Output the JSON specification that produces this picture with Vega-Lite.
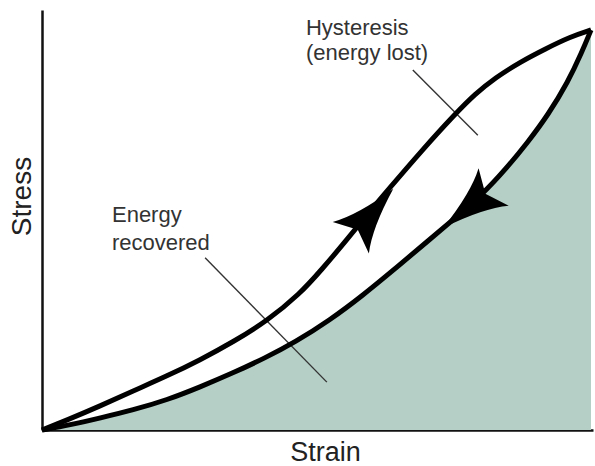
{
  "$schema": "https://vega.github.io/schema/vega-lite/v6.json",
  "width": 551,
  "height": 420,
  "autosize": "none",
  "padding": {"left": 42, "top": 10, "right": 2, "bottom": 36},
  "config": {"view": {"stroke": null}, "font": "Liberation Sans"},
  "datasets": {
    "curves": [
      {"curve": "loading", "x": 0, "y": 0},
      {"curve": "loading", "x": 4.54, "y": 2.38},
      {"curve": "loading", "x": 10.53, "y": 5.71},
      {"curve": "loading", "x": 16.52, "y": 9.29},
      {"curve": "loading", "x": 22.69, "y": 12.86},
      {"curve": "loading", "x": 28.68, "y": 16.67},
      {"curve": "loading", "x": 34.66, "y": 20.95},
      {"curve": "loading", "x": 40.83, "y": 25.95},
      {"curve": "loading", "x": 46.82, "y": 32.4},
      {"curve": "loading", "x": 50.82, "y": 38.3},
      {"curve": "loading", "x": 55.0, "y": 44.76},
      {"curve": "loading", "x": 58.8, "y": 50.95},
      {"curve": "loading", "x": 62.79, "y": 57.14},
      {"curve": "loading", "x": 68.97, "y": 66.6},
      {"curve": "loading", "x": 74.95, "y": 75.2},
      {"curve": "loading", "x": 78.6, "y": 80.0},
      {"curve": "loading", "x": 82.21, "y": 83.81},
      {"curve": "loading", "x": 86.75, "y": 87.6},
      {"curve": "loading", "x": 91.29, "y": 90.7},
      {"curve": "loading", "x": 95.83, "y": 93.6},
      {"curve": "loading", "x": 99.64, "y": 95.24},
      {"curve": "unloading", "x": 0, "y": 0},
      {"curve": "unloading", "x": 5.08, "y": 1.19},
      {"curve": "unloading", "x": 10.53, "y": 2.86},
      {"curve": "unloading", "x": 16.52, "y": 4.76},
      {"curve": "unloading", "x": 22.69, "y": 7.14},
      {"curve": "unloading", "x": 28.68, "y": 10.24},
      {"curve": "unloading", "x": 34.66, "y": 13.57},
      {"curve": "unloading", "x": 40.47, "y": 17.14},
      {"curve": "unloading", "x": 45.92, "y": 20.9},
      {"curve": "unloading", "x": 52.27, "y": 26.19},
      {"curve": "unloading", "x": 58.08, "y": 31.9},
      {"curve": "unloading", "x": 64.07, "y": 38.4},
      {"curve": "unloading", "x": 70.05, "y": 45.0},
      {"curve": "unloading", "x": 74.95, "y": 50.48},
      {"curve": "unloading", "x": 79.85, "y": 56.0},
      {"curve": "unloading", "x": 84.03, "y": 61.9},
      {"curve": "unloading", "x": 88.2, "y": 68.57},
      {"curve": "unloading", "x": 91.83, "y": 75.0},
      {"curve": "unloading", "x": 95.46, "y": 82.86},
      {"curve": "unloading", "x": 98.0, "y": 90.0},
      {"curve": "unloading", "x": 99.64, "y": 95.24}
    ],
    "arrows": [
      {"x": 59.9, "y": 51.6, "angle": 41},
      {"x": 77.4, "y": 53.0, "angle": 231}
    ],
    "leaders": [
      {"x": 67.3, "y": 85.7, "x2": 79.1, "y2": 70.2},
      {"x": 29.6, "y": 41.0, "x2": 51.7, "y2": 11.4}
    ],
    "labels": [
      {"text": "Hysteresis", "x": 47.9, "y": 94.05},
      {"text": "(energy lost)", "x": 47.9, "y": 88.1},
      {"text": "Energy", "x": 12.7, "y": 49.52},
      {"text": "recovered", "x": 12.7, "y": 42.86}
    ]
  },
  "encoding": {
    "x": {
      "field": "x",
      "type": "quantitative",
      "scale": {"domain": [0, 100], "nice": false, "zero": false},
      "axis": {
        "title": "Strain",
        "domain": true,
        "domainColor": "#111",
        "domainWidth": 2.5,
        "ticks": false,
        "labels": false,
        "grid": false,
        "titleFont": "Liberation Sans",
        "titleFontSize": 27,
        "titleFontWeight": "normal",
        "titleColor": "#222",
        "titleX": 283,
        "titleY": 30,
        "titleBaseline": "alphabetic"
      }
    },
    "y": {
      "field": "y",
      "type": "quantitative",
      "scale": {"domain": [0, 100], "nice": false, "zero": false},
      "axis": {
        "title": "Stress",
        "domain": true,
        "domainColor": "#111",
        "domainWidth": 2.5,
        "ticks": false,
        "labels": false,
        "grid": false,
        "titleFont": "Liberation Sans",
        "titleFontSize": 28,
        "titleFontWeight": "normal",
        "titleColor": "#222",
        "titleX": -12,
        "titleY": 186,
        "titleBaseline": "alphabetic"
      }
    }
  },
  "layer": [
    {
      "data": {"name": "curves"},
      "transform": [{"filter": "datum.curve == 'unloading'"}],
      "mark": {"type": "area", "interpolate": "basis", "color": "#b5cfc6"}
    },
    {
      "data": {"name": "leaders"},
      "mark": {"type": "rule", "color": "#333", "strokeWidth": 1.4},
      "encoding": {"x2": {"field": "x2"}, "y2": {"field": "y2"}}
    },
    {
      "data": {"name": "curves"},
      "mark": {"type": "line", "interpolate": "basis", "color": "#000", "strokeWidth": 5},
      "encoding": {"detail": {"field": "curve"}}
    },
    {
      "data": {"name": "arrows"},
      "mark": {
        "type": "point",
        "shape": "M0,-1 Q0.3,0.35 0.74,1 L0,0.67 L-0.74,1 Q-0.3,0.35 0,-1 Z",
        "filled": true,
        "color": "#000",
        "opacity": 1,
        "size": 4200
      },
      "encoding": {"angle": {"field": "angle", "type": "quantitative", "scale": null}}
    },
    {
      "data": {"name": "labels"},
      "mark": {
        "type": "text",
        "align": "left",
        "baseline": "alphabetic",
        "font": "Liberation Sans",
        "fontSize": 22,
        "color": "#333"
      },
      "encoding": {"text": {"field": "text"}}
    }
  ]
}
